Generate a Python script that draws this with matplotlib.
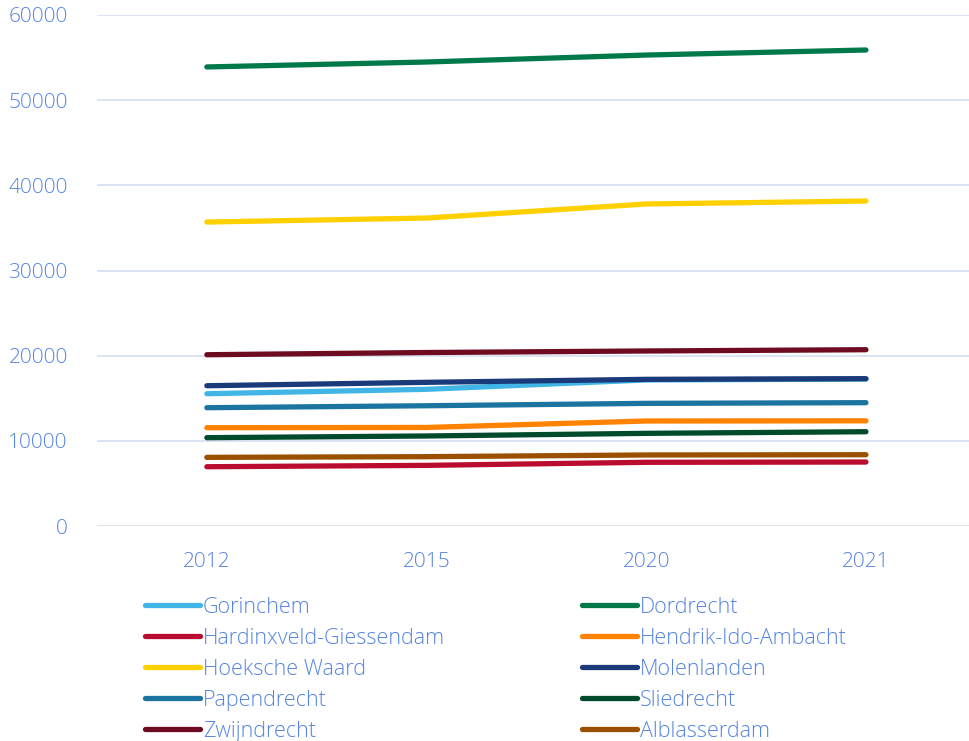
import matplotlib.pyplot as plt
from matplotlib.lines import Line2D

plt.rcParams['font.family'] = ['Open Sans', 'DejaVu Sans']
plt.rcParams['font.weight'] = 'light'

jaren = ['2012', '2015', '2020', '2021']

gemeenten = ['Gorinchem', 'Dordrecht', 'Hardinxveld-Giessendam', 'Hendrik-Ido-Ambacht',
             'Hoeksche Waard', 'Molenlanden', 'Papendrecht', 'Sliedrecht',
             'Zwijndrecht', 'Alblasserdam']

gorinchem = [15530, 16050, 17150, 17250]
dordrecht = [53900, 54480, 55300, 55890]
hardinxveld = [6960, 7120, 7480, 7510]
hendrik_ido_ambacht = [11540, 11570, 12330, 12350]
hoeksche_waard = [35690, 36160, 37810, 38160]
molenlanden = [16470, 16870, 17220, 17300]
papendrecht = [13890, 14120, 14400, 14480]
sliedrecht = [10370, 10570, 10880, 11070]
zwijndrecht = [20110, 20370, 20550, 20700]
alblasserdam = [8060, 8140, 8340, 8370]

reeksen = [gorinchem, dordrecht, hardinxveld, hendrik_ido_ambacht, hoeksche_waard,
           molenlanden, papendrecht, sliedrecht, zwijndrecht, alblasserdam]

kleuren = ['#41B6E6', '#00794A', '#BA0C2F', '#FF8200', '#FFD100',
           '#1B3A7A', '#1B75A0', '#004B2C', '#6E0B20', '#9B5000']

tekst = '#5584E2'

fig = plt.figure(figsize=(9.69, 7.41), dpi=100)
ax = fig.add_axes([97 / 969, 215 / 741, 872 / 969, 511 / 741])

x = list(range(len(jaren)))
for naam, y, c in zip(gemeenten, reeksen, kleuren):
    ax.plot(x, y, color=c, lw=3.8, solid_capstyle='round', label=naam)

ax.set_xlim(-0.5, -0.5 + 872 / 219.7)
ax.set_ylim(0, 60000)
ax.set_yticks(range(0, 60001, 10000))
ax.set_xticks(x)
ax.set_xticklabels(jaren)
ax.grid(axis='y', color='#D9E1F2', lw=1.3)
ax.set_axisbelow(True)
for s in ax.spines.values():
    s.set_visible(False)
ax.tick_params(length=0, colors=tekst, labelsize=15)
ax.tick_params(axis='y', pad=21)
ax.tick_params(axis='x', pad=19)

# legenda in twee kolommen, elk apart geplaatst
def legenda(idx, xpos):
    hs = [Line2D([], [], color=kleuren[i], lw=3.8, solid_capstyle='round') for i in idx]
    lg = fig.legend(hs, [gemeenten[i] for i in idx], loc='upper left',
                    bbox_to_anchor=(xpos / 969, 1 - 597 / 741), frameon=False,
                    fontsize=15.5, handlelength=2.55, handletextpad=0.15,
                    labelspacing=0.46, borderpad=0, borderaxespad=0)
    for t in lg.get_texts():
        t.set_color(tekst)
    return lg

legenda([0, 2, 4, 6, 8], 145)
legenda([1, 3, 5, 7, 9], 582)

plt.savefig('out.png', dpi=100)
